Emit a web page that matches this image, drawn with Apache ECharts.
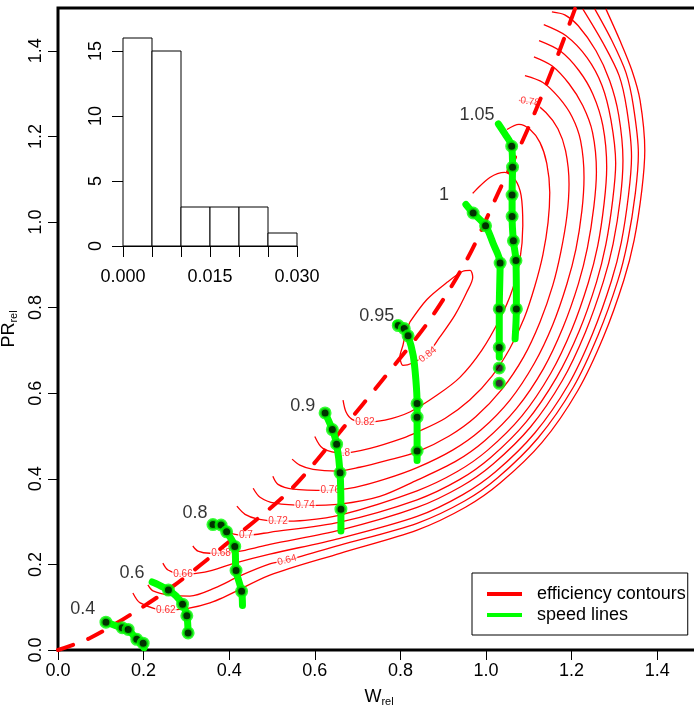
<!DOCTYPE html>
<html>
<head>
<meta charset="utf-8">
<script src="https://cdn.jsdelivr.net/npm/echarts@6/dist/echarts.min.js"></script>
<style>
  html, body { margin: 0; padding: 0; background: #fff; }
  #chart { width: 694px; height: 706px; }
</style>
</head>
<body>
<div id="chart"></div>
<script>
// efficiency contours, points are [W_rel, PR_rel]
const c62 = [[0.175,0.133],[0.192,0.110],[0.252,0.093],[0.355,0.110],[0.495,0.175],[0.659,0.226],[0.839,0.280],[0.953,0.334],[1.033,0.390],[1.131,0.485],[1.215,0.607],[1.275,0.733],[1.322,0.864],[1.346,0.957],[1.364,1.074],[1.371,1.167],[1.360,1.284],[1.341,1.354],[1.313,1.424],[1.280,1.498]];
const c64 = [[0.210,0.152],[0.222,0.138],[0.262,0.128],[0.308,0.126],[0.367,0.145],[0.425,0.173],[0.495,0.201],[0.535,0.210],[0.659,0.245],[0.839,0.296],[0.950,0.348],[1.028,0.403],[1.122,0.496],[1.204,0.614],[1.262,0.736],[1.308,0.863],[1.331,0.955],[1.349,1.068],[1.356,1.160],[1.344,1.273],[1.327,1.349],[1.294,1.424],[1.254,1.498]];
const c66 = [[0.245,0.203],[0.257,0.187],[0.292,0.177],[0.343,0.182],[0.413,0.203],[0.495,0.224],[0.659,0.261],[0.839,0.312],[0.946,0.363],[1.023,0.417],[1.114,0.507],[1.193,0.621],[1.249,0.739],[1.293,0.862],[1.316,0.952],[1.333,1.063],[1.340,1.153],[1.329,1.263],[1.311,1.342],[1.273,1.419],[1.226,1.498]];
const c68 = [[0.315,0.243],[0.327,0.231],[0.355,0.226],[0.381,0.226],[0.437,0.233],[0.495,0.247],[0.659,0.280],[0.839,0.333],[0.942,0.382],[1.016,0.434],[1.104,0.521],[1.178,0.629],[1.232,0.742],[1.274,0.860],[1.297,0.949],[1.314,1.056],[1.320,1.144],[1.310,1.250],[1.289,1.330],[1.257,1.400],[1.215,1.459],[1.184,1.484],[1.154,1.491]];
const c70 = [[0.383,0.299],[0.392,0.280],[0.411,0.271],[0.439,0.268],[0.495,0.275],[0.659,0.299],[0.839,0.351],[0.938,0.398],[1.011,0.450],[1.094,0.533],[1.165,0.637],[1.218,0.746],[1.258,0.859],[1.280,0.947],[1.296,1.051],[1.303,1.137],[1.292,1.238],[1.271,1.319],[1.236,1.384],[1.187,1.435],[1.135,1.461]];
const c72 = [[0.418,0.336],[0.437,0.317],[0.467,0.306],[0.514,0.301],[0.577,0.303],[0.659,0.315],[0.839,0.372],[0.933,0.417],[1.004,0.467],[1.084,0.547],[1.151,0.646],[1.201,0.750],[1.239,0.858],[1.261,0.944],[1.276,1.044],[1.282,1.128],[1.273,1.225],[1.250,1.298],[1.217,1.354],[1.173,1.400],[1.124,1.424]];
const c74 = [[0.456,0.378],[0.472,0.357],[0.507,0.343],[0.577,0.338],[0.659,0.341],[0.752,0.359],[0.839,0.397],[0.928,0.440],[0.997,0.489],[1.071,0.564],[1.134,0.657],[1.180,0.754],[1.216,0.856],[1.237,0.940],[1.252,1.036],[1.258,1.117],[1.249,1.209],[1.226,1.272],[1.194,1.323],[1.154,1.365],[1.112,1.386]];
const c76 = [[0.502,0.406],[0.514,0.387],[0.549,0.376],[0.631,0.373],[0.694,0.380],[0.764,0.399],[0.839,0.426],[0.922,0.467],[0.988,0.514],[1.056,0.584],[1.113,0.670],[1.156,0.760],[1.189,0.855],[1.210,0.936],[1.224,1.026],[1.229,1.104],[1.221,1.190],[1.201,1.246],[1.170,1.291],[1.133,1.326],[1.091,1.342]];
const c78 = [[0.547,0.446],[0.565,0.432],[0.596,0.422],[0.652,0.418],[0.705,0.427],[0.769,0.443],[0.839,0.463],[0.914,0.500],[0.976,0.545],[1.037,0.609],[1.088,0.685],[1.126,0.766],[1.156,0.852],[1.175,0.931],[1.189,1.014],[1.194,1.089],[1.186,1.166],[1.168,1.218],[1.140,1.256],[1.110,1.277],[1.077,1.284]];
const c80 = [[0.600,0.499],[0.619,0.471],[0.666,0.460],[0.729,0.471],[0.806,0.495],[0.839,0.509],[0.904,0.541],[0.962,0.584],[1.014,0.640],[1.056,0.705],[1.089,0.775],[1.114,0.850],[1.133,0.924],[1.145,0.999],[1.149,1.069],[1.142,1.137],[1.126,1.186],[1.103,1.216],[1.077,1.228],[1.049,1.216]];
const c82 = [[0.666,0.584],[0.673,0.556],[0.687,0.539],[0.717,0.532],[0.764,0.537],[0.822,0.556],[0.885,0.595],[0.939,0.637],[0.990,0.700],[1.033,0.775],[1.061,0.840],[1.079,0.910],[1.086,0.992],[1.082,1.062],[1.068,1.099],[1.044,1.116],[1.009,1.104],[0.969,1.067]];
const c84 = [[0.822,0.766],[0.862,0.819],[0.909,0.859],[0.946,0.885],[0.963,0.887],[0.969,0.871],[0.955,0.836],[0.927,0.782],[0.892,0.731],[0.864,0.693],[0.827,0.670],[0.806,0.665],[0.799,0.686],[0.806,0.712],[0.812,0.740],[0.822,0.766]];

// contour labels: text, position, angle
const contourLabelText = ['0.62','0.64','0.66','0.68','0.7','0.72','0.74','0.76','0.78','0.8','0.82','0.84'];
const contourLabelPos = [[0.252,0.093],[0.535,0.210],[0.292,0.177],[0.381,0.226],[0.439,0.268],[0.514,0.301],[0.577,0.338],[0.636,0.373],[1.103,1.281],[0.666,0.460],[0.717,0.532],[0.864,0.690]];
const contourLabelAngle = [0, 15, 0, 0, 0, 0, 0, 0, -8, 0, 0, 38];

// peak efficiency line (dashed)
const ridge = [[0.000,0.000],[0.075,0.028],[0.175,0.086],[0.273,0.152],[0.390,0.245],[0.542,0.373],[0.664,0.516],[0.759,0.632],[0.869,0.772],[0.958,0.917],[1.028,1.067],[1.098,1.218],[1.161,1.372],[1.208,1.498]];

// speed lines (fitted curve) and measured points
const sp04Line = [[0.112,0.065],[0.150,0.052],[0.164,0.048],[0.184,0.025],[0.199,0.016],[0.201,0.005]];
const sp04Pts = [[0.112,0.065],[0.150,0.052],[0.164,0.048],[0.184,0.025],[0.199,0.016]];
const sp06Line = [[0.220,0.159],[0.234,0.153],[0.258,0.140],[0.276,0.126],[0.291,0.107],[0.301,0.080],[0.304,0.040]];
const sp06Pts = [[0.258,0.140],[0.291,0.107],[0.301,0.080],[0.304,0.040]];
const sp08Line = [[0.362,0.293],[0.381,0.292],[0.394,0.276],[0.413,0.242],[0.416,0.186],[0.429,0.137],[0.431,0.104]];
const sp08Pts = [[0.362,0.293],[0.381,0.292],[0.394,0.276],[0.413,0.242],[0.416,0.186],[0.429,0.137]];
const sp09Line = [[0.624,0.554],[0.641,0.515],[0.651,0.481],[0.659,0.414],[0.661,0.329],[0.661,0.278]];
const sp09Pts = [[0.624,0.554],[0.641,0.515],[0.651,0.481],[0.659,0.414],[0.661,0.329]];
const sp095Line = [[0.790,0.763],[0.795,0.758],[0.809,0.751],[0.818,0.734],[0.830,0.688],[0.836,0.633],[0.839,0.576],[0.839,0.544],[0.839,0.465],[0.839,0.443]];
const sp095Pts = [[0.795,0.758],[0.809,0.751],[0.818,0.734],[0.839,0.576],[0.839,0.544],[0.839,0.465]];
const sp10Line = [[0.953,1.041],[0.970,1.021],[0.999,0.991],[1.017,0.949],[1.033,0.904],[1.031,0.797],[1.031,0.707],[1.031,0.684]];
const sp10Pts = [[0.970,1.021],[0.999,0.991],[1.033,0.904],[1.031,0.797],[1.031,0.707],[1.031,0.659],[1.031,0.623]];
const sp105Line = [[1.029,1.229],[1.044,1.206],[1.060,1.177],[1.062,1.128],[1.061,1.063],[1.061,1.013],[1.064,0.956],[1.070,0.910],[1.071,0.797],[1.068,0.727]];
const sp105Pts = [[1.060,1.177],[1.062,1.128],[1.061,1.063],[1.061,1.013],[1.064,0.956],[1.070,0.910],[1.071,0.797]];

const speedLabelText = ['0.4','0.6','0.8','0.9','0.95','1','1.05'];
const speedLabelPos = [[0.058,0.096],[0.173,0.180],[0.320,0.320],[0.572,0.570],[0.745,0.780],[0.902,1.062],[0.979,1.249]];

// inset histogram
const histBreaks = [0, 0.005, 0.010, 0.015, 0.020, 0.025, 0.030];
const histCounts = [16, 15, 3, 3, 3, 1];

// tick labels
const mainTicks = [0, 0.2, 0.4, 0.6, 0.8, 1.0, 1.2, 1.4];
const histXTicks = [0, 0.005, 0.010, 0.015, 0.020, 0.025, 0.030];
const histXLabels = [0, 0.015, 0.030];
const histYTicks = [0, 5, 10, 15];

const FONT = '"Liberation Sans", Arial, Helvetica, sans-serif';
const RED = '#ff0000';
const GREEN = '#00ff00';

const contours = [c62, c64, c66, c68, c70, c72, c74, c76, c78, c80, c82, c84];
const speedLines = [sp04Line, sp06Line, sp08Line, sp09Line, sp095Line, sp10Line, sp105Line];
const speedPts = [sp04Pts, sp06Pts, sp08Pts, sp09Pts, sp095Pts, sp10Pts, sp105Pts];

const chart = echarts.init(document.getElementById('chart'));

const series = [];

contours.forEach((c) => {
  series.push({
    name: 'efficiency contours',
    type: 'line',
    data: c,
    smooth: 0.3,
    symbol: 'none',
    z: 2,
    lineStyle: { color: RED, width: 1.3 },
    itemStyle: { color: RED },
  });
});

series.push({
  type: 'scatter',
  data: contourLabelPos.map((p, i) => ({
    value: p,
    name: contourLabelText[i],
    label: { rotate: contourLabelAngle[i] },
  })),
  symbolSize: 1,
  itemStyle: { color: 'rgba(0,0,0,0)' },
  z: 3,
  label: {
    show: true,
    position: 'inside',
    formatter: (p) => p.name,
    color: RED,
    fontSize: 10,
    backgroundColor: '#fff',
    padding: [0, 1],
  },
});

series.push({
  name: 'efficiency contours',
  type: 'line',
  data: ridge,
  smooth: 0.3,
  symbol: 'none',
  z: 4,
  lineStyle: { color: RED, width: 4, type: [16, 16], cap: 'round' },
  itemStyle: { color: RED },
});

speedLines.forEach((s) => {
  series.push({
    name: 'speed lines',
    type: 'line',
    data: s,
    smooth: 0.3,
    symbol: 'none',
    z: 5,
    lineStyle: { color: GREEN, width: 7, cap: 'round' },
    itemStyle: { color: GREEN },
  });
});

series.push({
  type: 'scatter',
  data: speedPts.flat(),
  symbolSize: 10,
  z: 6,
  itemStyle: { color: '#000', borderColor: GREEN, borderWidth: 3 },
});

series.push({
  type: 'scatter',
  data: speedLabelPos.map((p, i) => ({ value: p, name: speedLabelText[i] })),
  symbolSize: 1,
  itemStyle: { color: 'rgba(0,0,0,0)' },
  z: 7,
  label: {
    show: true,
    position: 'inside',
    formatter: (p) => p.name,
    color: '#000',
    textBorderWidth: 0,
    fontSize: 18,
  },
});

series.push({
  type: 'custom',
  xAxisIndex: 1,
  yAxisIndex: 1,
  clip: false,
  z: 8,
  data: histCounts.map((c, i) => [histBreaks[i], histBreaks[i + 1], c]),
  encode: { x: [0, 1], y: 2 },
  renderItem(params, api) {
    const top = api.coord([api.value(0), api.value(2)]);
    const bot = api.coord([api.value(1), 0]);
    return {
      type: 'rect',
      shape: { x: top[0], y: top[1], width: bot[0] - top[0], height: bot[1] - top[1] },
      style: { fill: '#fff', stroke: '#000', lineWidth: 1 },
    };
  },
});

const axisText = { fontSize: 18, color: '#000', fontFamily: FONT };

chart.setOption({
  animation: false,
  textStyle: { fontFamily: FONT },
  grid: [
    { left: 58, top: 8, width: 642, height: 642, show: true, borderColor: '#000', borderWidth: 3, containLabel: false, outerBoundsMode: 'none' },
    { left: 123, top: 51, width: 174, height: 195, containLabel: false, outerBoundsMode: 'none' },
  ],
  xAxis: [
    {
      gridIndex: 0, type: 'value', min: 0, max: 1.5,
      name: '{a|W}{b|rel}', nameLocation: 'middle', nameGap: 37,
      nameTextStyle: { rich: { a: { fontSize: 18, color: '#000' }, b: { fontSize: 11, color: '#000', padding: [9, 0, 0, 0] } } },
      axisLine: { show: false },
      axisTick: { customValues: mainTicks, length: 10, lineStyle: { color: '#000' } },
      axisLabel: Object.assign({ customValues: mainTicks, formatter: (v) => v.toFixed(1), margin: 12 }, axisText),
      splitLine: { show: false },
    },
    {
      gridIndex: 1, type: 'value', min: 0, max: 0.03, offset: 9,
      axisLine: { show: true, lineStyle: { color: '#000', width: 1 } },
      axisTick: { customValues: histXTicks, length: 11, lineStyle: { color: '#000' } },
      axisLabel: Object.assign({ customValues: histXLabels, formatter: (v) => v.toFixed(3), margin: 13 }, axisText),
      splitLine: { show: false },
    },
  ],
  yAxis: [
    {
      gridIndex: 0, type: 'value', min: 0, max: 1.5,
      name: '{a|PR}{b|rel}', nameLocation: 'middle', nameGap: 37, nameRotate: 90,
      nameTextStyle: { rich: { a: { fontSize: 18, color: '#000' }, b: { fontSize: 11, color: '#000', padding: [9, 0, 0, 0] } } },
      axisLine: { show: false },
      axisTick: { customValues: mainTicks, length: 10, lineStyle: { color: '#000' } },
      axisLabel: Object.assign({ customValues: mainTicks, formatter: (v) => v.toFixed(1), rotate: 90, margin: 13 }, axisText),
      splitLine: { show: false },
    },
    {
      gridIndex: 1, type: 'value', min: 0, max: 15, offset: 6,
      axisLine: { show: true, lineStyle: { color: '#000', width: 1 } },
      axisTick: { customValues: histYTicks, length: 11, lineStyle: { color: '#000' } },
      axisLabel: Object.assign({ customValues: histYTicks, rotate: 90, margin: 12 }, axisText),
      splitLine: { show: false },
    },
  ],
  legend: {
    data: ['efficiency contours', 'speed lines'],
    orient: 'vertical',
    left: 472,
    top: 573,
    icon: 'rect',
    itemWidth: 35,
    itemHeight: 4,
    itemGap: 3,
    padding: [12, 2, 11, 15],
    borderColor: '#000',
    borderWidth: 1,
    backgroundColor: '#fff',
    selectedMode: false,
    textStyle: { fontSize: 18, color: '#000', padding: [0, 0, 0, 10] },
  },
  series,
});
</script>
</body>
</html>
